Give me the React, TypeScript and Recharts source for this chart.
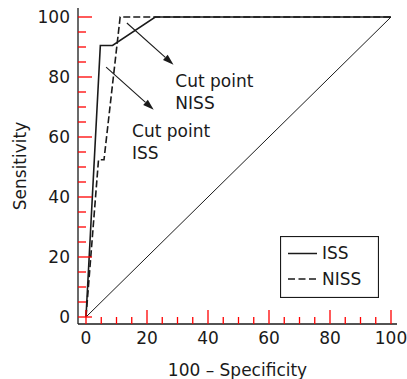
import { LineChart, Line, XAxis, YAxis, Legend, ReferenceLine, ReferenceDot } from "recharts"

// ROC curves: x = 100 - specificity, y = sensitivity
const issFpr = [0, 4.7, 8.7, 22.7, 100]
const issSens = [0, 90.5, 90.5, 100, 100]
const nissFpr = [0, 4.1, 5.9, 11.2, 100]
const nissSens = [0, 52.4, 52.4, 100, 100]
const chanceFpr = [0, 100]
const chanceSens = [0, 100]

const axisTicks = [0, 5, 10, 15, 20, 25, 30, 35, 40, 45, 50, 55, 60, 65, 70, 75, 80, 85, 90, 95, 100]

// "Cut point" annotations
const cutNames = ["NISS", "ISS"]
const arrowFromX = [13.4, 6.6]
const arrowFromY = [98, 83.3]
const arrowToX = [28.7, 22.2]
const arrowToY = [84.1, 69.1]
const textX = [29.3, 15.1]
const textY = [76.8, 60.1]

const legendNames = ["ISS", "NISS"]

const FONT = "DejaVu Sans"
const INK = "#1a1a1a"
const TICK = "red"

const issData = issFpr.map((x, i) => ({ x, y: issSens[i] }))
const nissData = nissFpr.map((x, i) => ({ x, y: nissSens[i] }))
const chanceData = chanceFpr.map((x, i) => ({ x, y: chanceSens[i] }))

function YTick(props: any) {
  const { x, y, payload } = props
  const major = payload.value % 20 === 0
  return (
    <g>
      <path d={`M${x},${y}h${major ? 14 : 8}`} stroke={TICK} strokeWidth={1.3} fill="none" />
      {major && (
        <text x={x - 8} y={y} dy="0.35em" textAnchor="end" fontFamily={FONT} fontSize={17} fill={INK}>
          {payload.value}
        </text>
      )}
    </g>
  )
}

function XTick(props: any) {
  const { x, y, payload } = props
  const major = payload.value % 20 === 0
  return (
    <g>
      <path d={`M${x},${y}v${major ? -14 : -7}`} stroke={TICK} strokeWidth={1.3} fill="none" />
      {major && (
        <text x={x} y={y + 14} dy="0.35em" textAnchor="middle" fontFamily={FONT} fontSize={17} fill={INK}>
          {payload.value}
        </text>
      )}
    </g>
  )
}

function Arrow(props: any) {
  const { x1, y1, x2, y2 } = props
  const a = Math.atan2(y2 - y1, x2 - x1)
  const len = 11
  const w = 3.5
  const bx = x2 - len * Math.cos(a)
  const by = y2 - len * Math.sin(a)
  const pts = [
    [x2, y2],
    [bx + w * Math.sin(a), by - w * Math.cos(a)],
    [bx - w * Math.sin(a), by + w * Math.cos(a)],
  ]
  return (
    <g>
      <line x1={x1} y1={y1} x2={bx} y2={by} stroke={INK} strokeWidth={1.1} />
      <polygon points={pts.map((p) => p.join(",")).join(" ")} fill={INK} />
    </g>
  )
}

function CutText(name: string) {
  return (props: any) => (
    <text x={props.cx} y={props.cy} fontFamily={FONT} fontSize={17} fill={INK}>
      <tspan x={props.cx}>Cut point</tspan>
      <tspan x={props.cx} dy={22.6}>
        {name}
      </tspan>
    </text>
  )
}

function LegendBox() {
  return (
    <svg width={99} height={62} style={{ display: "block" }}>
      <rect x={0.5} y={0.5} width={98} height={61} fill="white" stroke={INK} strokeWidth={1.2} />
      {legendNames.map((n, i) => (
        <g key={n}>
          <line
            x1={8}
            x2={37}
            y1={17.5 + i * 25.5}
            y2={17.5 + i * 25.5}
            stroke={INK}
            strokeWidth={1.5}
            strokeDasharray={i === 1 ? "7 3.5" : undefined}
          />
          <text x={42} y={17.5 + i * 25.5} dy="0.35em" fontFamily={FONT} fontSize={17} fill={INK}>
            {n}
          </text>
        </g>
      ))}
    </svg>
  )
}

export default function App() {
  return (
    <div style={{ position: "absolute", left: 0, top: 0, background: "white" }}>
      <LineChart width={407} height={379} margin={{ top: 8, right: 10, bottom: 0, left: 0 }}>
        <XAxis
          type="number"
          dataKey="x"
          domain={[0, 100]}
          ticks={axisTicks}
          interval={0}
          padding={{ left: 8, right: 6 }}
          height={55}
          tickSize={0}
          tickMargin={0}
          tickLine={false}
          axisLine={{ stroke: INK, strokeWidth: 1.3 }}
          tick={<XTick />}
          label={(p: any) => {
            const vb = p.viewBox || { x: 78, y: 324, width: 319, height: 55 }
            return (
              <text
                x={vb.x + vb.width / 2}
                y={vb.y + 46}
                dy="0.35em"
                textAnchor="middle"
                fontFamily={FONT}
                fontSize={17}
                fill={INK}
              >
                100 – Specificity
              </text>
            )
          }}
        />
        <YAxis
          type="number"
          dataKey="y"
          domain={[0, 100]}
          ticks={axisTicks}
          interval={0}
          padding={{ top: 9, bottom: 7 }}
          width={78}
          tickSize={0}
          tickMargin={0}
          tickLine={false}
          axisLine={{ stroke: INK, strokeWidth: 1.3 }}
          tick={<YTick />}
          label={(p: any) => {
            const vb = p.viewBox || { x: 0, y: 8, width: 78, height: 316 }
            const cy = vb.y + vb.height / 2
            return (
              <text
                x={20}
                y={cy}
                dy="0.35em"
                textAnchor="middle"
                transform={`rotate(-90 20 ${cy})`}
                fontFamily={FONT}
                fontSize={17}
                fill={INK}
              >
                Sensitivity
              </text>
            )
          }}
        />
        <Line
          data={chanceData}
          dataKey="y"
          type="linear"
          stroke={INK}
          strokeWidth={1}
          dot={false}
          isAnimationActive={false}
          legendType="none"
        />
        <Line
          data={nissData}
          dataKey="y"
          name="NISS"
          type="linear"
          stroke={INK}
          strokeWidth={1.6}
          strokeDasharray="7 3"
          dot={false}
          isAnimationActive={false}
        />
        <Line
          data={issData}
          dataKey="y"
          name="ISS"
          type="linear"
          stroke={INK}
          strokeWidth={1.6}
          dot={false}
          isAnimationActive={false}
        />
        {cutNames.map((n, i) => (
          <ReferenceLine
            key={"a" + n}
            segment={[
              { x: arrowFromX[i], y: arrowFromY[i] },
              { x: arrowToX[i], y: arrowToY[i] },
            ]}
            shape={Arrow}
          />
        ))}
        {cutNames.map((n, i) => (
          <ReferenceDot key={"t" + n} x={textX[i]} y={textY[i]} r={0} shape={CutText(n)} />
        ))}
        <Legend
          layout="horizontal"
          align="center"
          verticalAlign="middle"
          width={99}
          height={62}
          wrapperStyle={{ left: 280, top: 236, width: 99, height: 62 }}
          content={() => <LegendBox />}
        />
      </LineChart>
    </div>
  )
}
